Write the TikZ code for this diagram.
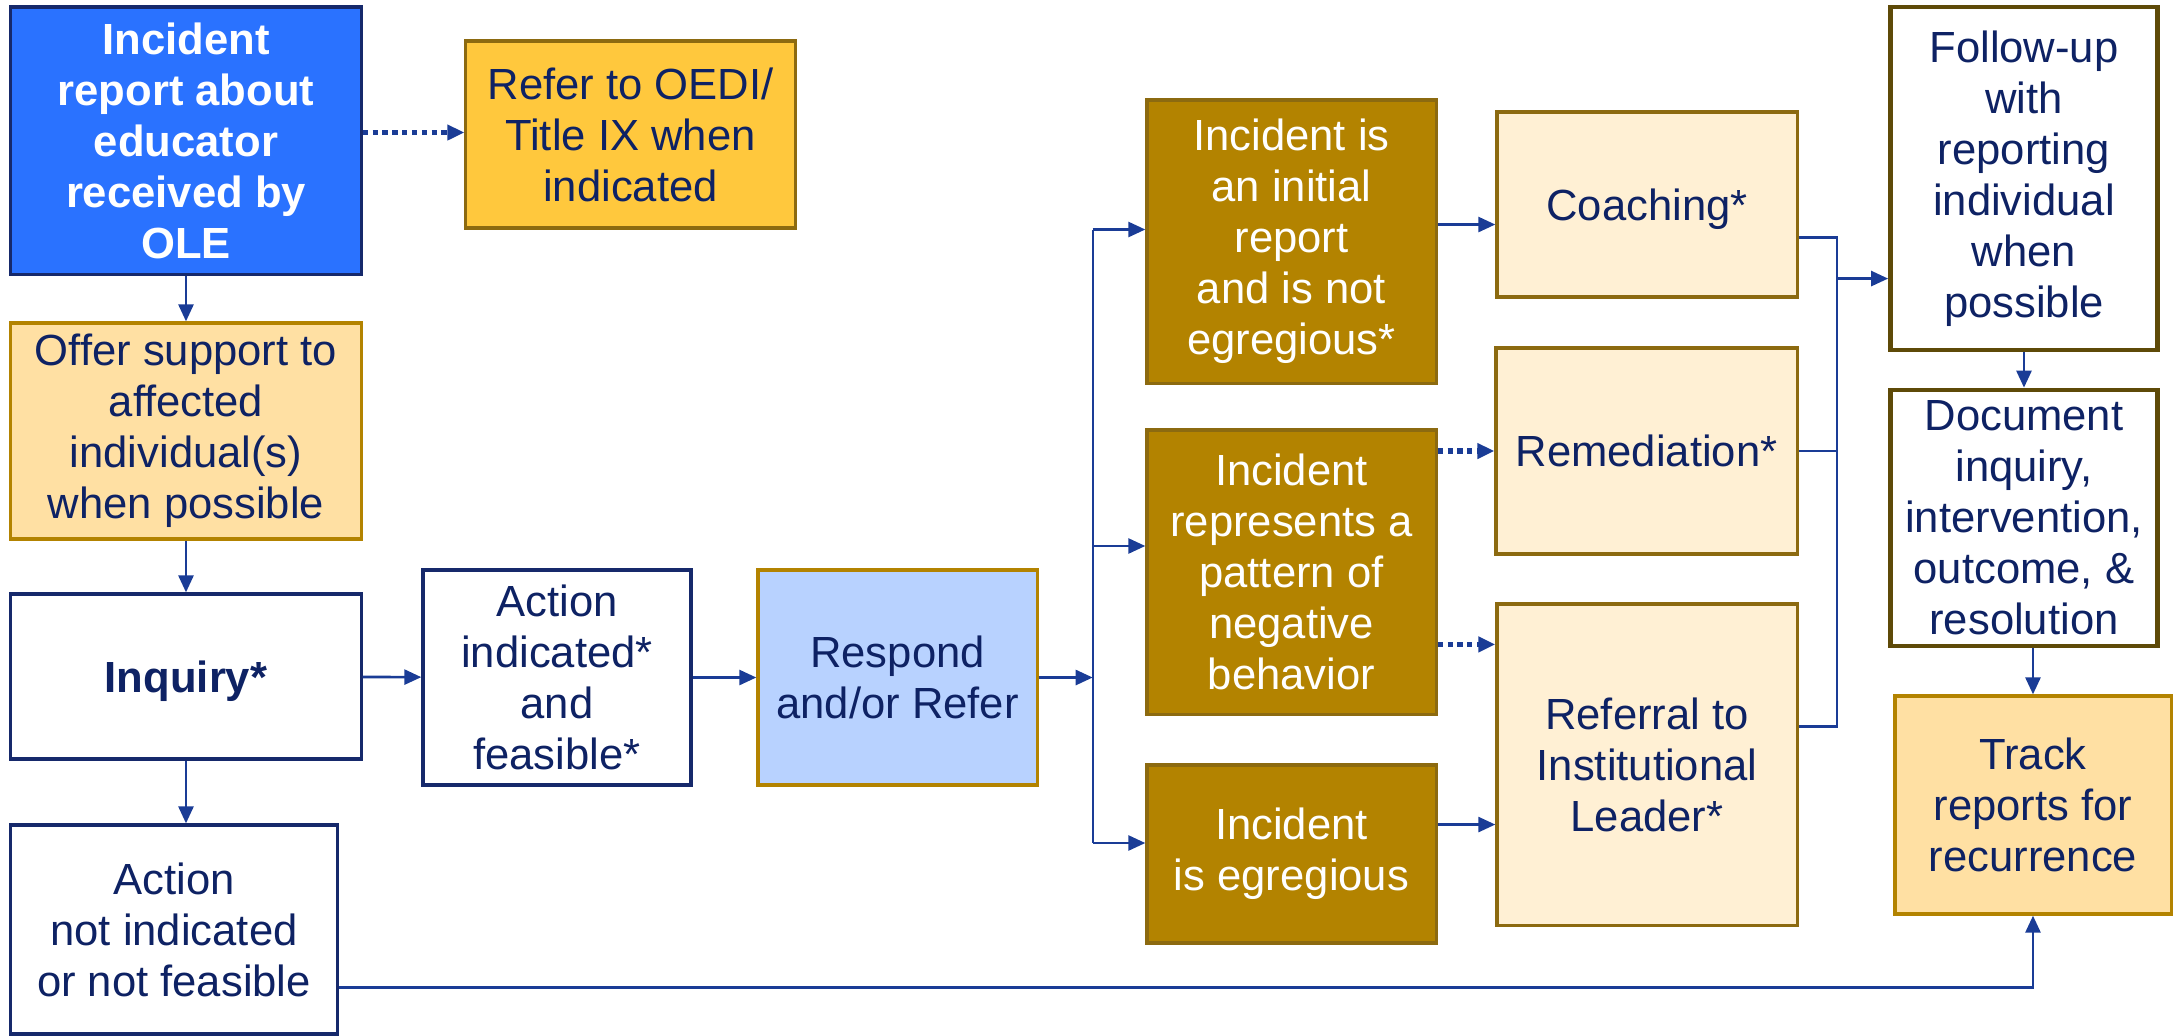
\documentclass[tikz,border=0pt]{standalone}
\usepackage{fontspec}
\setmainfont{Liberation Sans}
\usetikzlibrary{arrows.meta}
\definecolor{ink}{HTML}{0E2264}
\definecolor{linkblue}{HTML}{1A3C96}
\definecolor{reportblue}{HTML}{2A72FF}
\definecolor{deepnavy}{HTML}{16296B}
\definecolor{gold}{HTML}{FFC83D}
\definecolor{peach}{HTML}{FFE0A3}
\definecolor{ochre}{HTML}{B38300}
\definecolor{cream}{HTML}{FFF0D4}
\definecolor{skyblue}{HTML}{B8D2FF}
\definecolor{brownline}{HTML}{8C6A10}
\definecolor{darkbrown}{HTML}{5E4A08}
\begin{document}
\begin{tikzpicture}[x=0.01cm, y=-0.01cm, >={Triangle[length=0.17cm,width=0.15cm]},
    every node/.style={draw, align=center, inner sep=0pt, text=ink, line width=0.9pt,
        font=\fontsize{12.4}{14.5}\selectfont},
    reportbox/.style={fill=reportblue, draw=deepnavy, text=white,
        font=\fontsize{12.4}{14.5}\selectfont\bfseries},
    goldbox/.style={fill=gold, draw=brownline},
    peachbox/.style={fill=peach, draw=ochre},
    plainbox/.style={fill=white, draw=deepnavy},
    respondbox/.style={fill=skyblue, draw=ochre},
    casebox/.style={fill=ochre, draw=brownline, text=white},
    actionbox/.style={fill=cream, draw=brownline},
    outbox/.style={fill=white, draw=darkbrown, line width=1.3pt},
    link/.style={->, draw=linkblue, line width=0.75pt},
    dotlink/.style={->, draw=linkblue, line width=1.5pt, dash pattern=on 1.5pt off 1.3pt},
    wire/.style={draw=linkblue, line width=0.6pt}]
    \useasboundingbox (0,0) rectangle (2177,1035);

    % left column
    \node[reportbox, minimum width=3.5cm, minimum height=2.67cm] (report) at (186,140.5)
        {Incident\\report about\\educator\\received by\\OLE};
    \node[goldbox, minimum width=3.29cm, minimum height=1.87cm] (oedi) at (630.5,134.5)
        {Refer to OEDI/\\Title IX when\\indicated};
    \node[peachbox, minimum width=3.5cm, minimum height=2.16cm] (support) at (186,431)
        {Offer support to\\affected\\individual(s)\\when possible};
    \node[plainbox, minimum width=3.5cm, minimum height=1.65cm, text depth=0pt] (inquiry) at (186,676.5)
        {\textbf{Inquiry*}};
    \node[plainbox, minimum width=3.26cm, minimum height=2.09cm] (noaction) at (174,929.5)
        {Action\\not indicated\\or not feasible};
    \node[plainbox, minimum width=2.68cm, minimum height=2.15cm] (feasible) at (557,677.5)
        {Action\\indicated*\\and\\feasible*};
    \node[respondbox, minimum width=2.79cm, minimum height=2.15cm] (respond) at (897.5,677.5)
        {Respond\\and/or Refer};

    % incident types
    \node[casebox, minimum width=2.89cm, minimum height=2.83cm] (initial) at (1291.5,241.5)
        {Incident is\\an initial\\report\\and is not\\egregious*};
    \node[casebox, minimum width=2.89cm, minimum height=2.84cm] (pattern) at (1291.5,572)
        {Incident\\represents a\\pattern of\\negative\\behavior};
    \node[casebox, minimum width=2.89cm, minimum height=1.78cm] (egregious) at (1291.5,854)
        {Incident\\is egregious};

    % interventions
    \node[actionbox, minimum width=3.0cm, minimum height=1.85cm, text depth=0pt] (coaching) at (1647,204.5)
        {Coaching*};
    \node[actionbox, minimum width=3.01cm, minimum height=2.06cm, text depth=0pt] (remediation) at (1646.5,451)
        {Remediation*};
    \node[actionbox, minimum width=3.0cm, minimum height=3.21cm] (referral) at (1647,764.5)
        {Referral to\\Institutional\\Leader*};

    % closing steps
    \node[outbox, minimum width=2.67cm, minimum height=3.43cm] (followup) at (2024,178.5)
        {Follow-up\\with\\reporting\\individual\\when\\possible};
    \node[outbox, minimum width=2.67cm, minimum height=2.56cm] (document) at (2024,518)
        {Document\\inquiry,\\intervention,\\outcome, \&\\resolution};
    \node[peachbox, minimum width=2.76cm, minimum height=2.18cm] (track) at (2033,805)
        {Track\\reports for\\recurrence};

    % helper points
    \coordinate (r1) at ([yshift=0.08cm]report.east);
    \coordinate (fork) at ([xshift=0.54cm]respond.east);
    \coordinate (h1) at ([yshift=0.12cm]initial.west);
    \coordinate (p1) at ([yshift=0.26cm]pattern.west);
    \coordinate (h3) at ([yshift=0.11cm]egregious.west);
    \coordinate (c1) at ([yshift=-0.2cm]coaching.west);
    \coordinate (l1) at ([yshift=1.2cm]referral.west);
    \coordinate (l2) at ([yshift=-0.6cm]referral.west);
    \coordinate (c2) at ([yshift=-0.33cm]coaching.east);
    \coordinate (l3) at ([yshift=0.38cm]referral.east);
    \coordinate (join) at ([xshift=0.38cm]coaching.east);
    \coordinate (f1) at ([yshift=-1.0cm]followup.west);
    \coordinate (n1) at ([yshift=-0.58cm]noaction.east);

    % connectors
    \draw[dotlink] (r1) -- (r1 -| oedi.west);
    \draw[link] (report) -- (support);
    \draw[link] (support) -- (inquiry);
    \draw[link] (inquiry.south) -- (inquiry.south |- noaction.north);
    \draw[link] (inquiry) -- (feasible);
    \draw[link] (feasible) -- (respond);
    \draw[link] (respond) -- (fork);
    \draw[wire] (fork |- h1) -- (fork |- h3);
    \draw[link] (fork |- h1) -- (h1);
    \draw[link] (fork |- p1) -- (p1);
    \draw[link] (fork |- h3) -- (h3);
    \draw[link] (c1 -| initial.east) -- (c1);
    \draw[dotlink] (pattern.east |- remediation.west) -- (remediation.west);
    \draw[dotlink] (l1 -| pattern.east) -- (l1);
    \draw[link] (l2 -| egregious.east) -- (l2);
    \draw[wire] (c2) -| (join |- l3) -- (l3);
    \draw[wire] (remediation.east) -- (join |- remediation.east);
    \draw[link] (join |- f1) -- (f1);
    \draw[link] (followup) -- (document);
    \draw[link] (document.south -| track.north) -- (track.north);
    \draw[link] (n1) -| (track.south);
\end{tikzpicture}
\end{document}
